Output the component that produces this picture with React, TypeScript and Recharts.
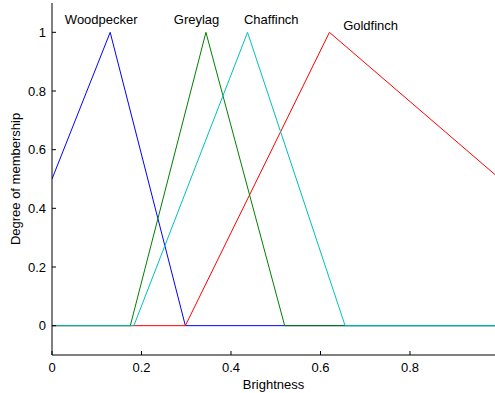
import React from 'react'
import { LineChart, Line, XAxis, YAxis, ReferenceDot } from 'recharts'

// membership functions
const woodpeckerX = [0, 0.13, 0.298, 0.99]
const woodpeckerY = [0.5, 1, 0, 0]
const greylagX = [0, 0.175, 0.344, 0.52, 0.99]
const greylagY = [0, 0, 1, 0, 0]
const chaffinchX = [0, 0.183, 0.437, 0.655, 0.99]
const chaffinchY = [0, 0, 1, 0, 0]
const goldfinchX = [0, 0.298, 0.62, 0.99]
const goldfinchY = [0, 0, 1, 0.515]

const names = ['Woodpecker', 'Greylag', 'Chaffinch', 'Goldfinch']
const labelX = [0.11, 0.323, 0.49, 0.712]
const labelY = [1.044, 1.044, 1.044, 1.024]

const xTicks = [0, 0.2, 0.4, 0.6, 0.8]
const yTicks = [0, 0.2, 0.4, 0.6, 0.8, 1]

const toPoints = (xs: number[], ys: number[]) => xs.map((x, i) => ({ x, y: ys[i] }))

const woodpecker = toPoints(woodpeckerX, woodpeckerY)
const greylag = toPoints(greylagX, greylagY)
const chaffinch = toPoints(chaffinchX, chaffinchY)
const goldfinch = toPoints(goldfinchX, goldfinchY)

const font = '"Liberation Sans", Arial, Helvetica, sans-serif'

const YLabel = ({ viewBox }: any) => {
	const cx = viewBox.x + 15
	const cy = viewBox.y + viewBox.height / 2
	return (
		<text x={cx} y={cy} transform={`rotate(-90 ${cx} ${cy})`} textAnchor="middle" dominantBaseline="central" fontSize={13} fill="#000">
			Degree of membership
		</text>
	)
}

const App = () => {
	return (
		<div style={{ position: 'absolute', left: 0, top: 0, fontFamily: font }}>
			<LineChart width={495} height={393} margin={{ top: 3, right: 0, bottom: 0, left: 0 }}>
				<XAxis
					type="number"
					dataKey="x"
					domain={[0, 0.99]}
					ticks={xTicks}
					allowDataOverflow
					height={38}
					tickSize={-4}
					tickMargin={12}
					axisLine={{ stroke: '#000' }}
					tickLine={{ stroke: '#000' }}
					tick={{ fill: '#000', fontSize: 13 }}
					label={{ value: 'Brightness', position: 'insideBottom', offset: 4, fill: '#000', fontSize: 13 }}
				/>
				<XAxis
					xAxisId="top"
					orientation="top"
					type="number"
					domain={[0, 0.99]}
					ticks={[0.2, 0.4, 0.6, 0.8]}
					allowDataOverflow
					height={0}
					tickSize={-4}
					axisLine={{ stroke: '#000' }}
					tickLine={{ stroke: '#000' }}
					tick={() => <g />}
				/>
				<YAxis
					type="number"
					domain={[-0.1, 1.1]}
					ticks={yTicks}
					allowDataOverflow
					width={52}
					tickSize={-4}
					tickMargin={10}
					axisLine={{ stroke: '#000' }}
					tickLine={{ stroke: '#000' }}
					tick={{ fill: '#000', fontSize: 13 }}
					label={{ content: YLabel }}
				/>
				<Line data={woodpecker} dataKey="y" stroke="#0000ff" strokeWidth={1} dot={false} isAnimationActive={false} />
				<Line data={goldfinch} dataKey="y" stroke="#ff0000" strokeWidth={1} dot={false} isAnimationActive={false} />
				<Line data={greylag} dataKey="y" stroke="#008000" strokeWidth={1} dot={false} isAnimationActive={false} />
				<Line data={chaffinch} dataKey="y" stroke="#00bfbf" strokeWidth={1} dot={false} isAnimationActive={false} />
				{names.map((n, i) => (
					<ReferenceDot
						key={n}
						x={labelX[i]}
						y={labelY[i]}
						r={0}
						fill="none"
						stroke="none"
						label={{ value: n, position: 'center', fill: '#000', fontSize: 13 }}
					/>
				))}
			</LineChart>
		</div>
	)
}

export default App
